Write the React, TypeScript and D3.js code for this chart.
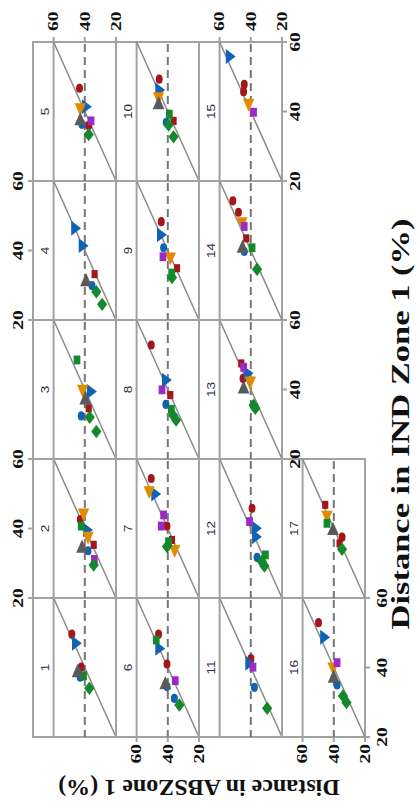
import React from 'react';
import * as d3 from 'd3';

// ---------- data: [panel, IND Zone 1 (%), ABS Zone 1 (%)] ----------
const panels = d3.range(1, 18);
const tickValues = [20, 40, 60];
const refLineValue = 40;
const xTitle = 'Distance in IND Zone 1 (%)';
const yTitle = 'Distance in ABSZone 1 (%)';

const redCircle = [
  [1, 49.6, 48.3], [1, 40.1, 42.3], [2, 42.6, 42.9], [5, 46.7, 43.4], [5, 36.0, 37.5],
  [6, 49.6, 45.9], [6, 41.0, 40.5], [7, 54.4, 50.6], [7, 40.7, 40.5], [8, 52.8, 50.6],
  [9, 48.3, 44.2], [10, 49.3, 45.5], [11, 42.6, 39.9], [12, 45.8, 39.2], [13, 43.2, 45.0],
  [14, 54.3, 51.5], [14, 51.0, 47.9], [15, 47.8, 44.2], [15, 45.7, 44.6], [16, 52.9, 49.8],
  [17, 37.5, 34.7],
];
const redSquare = [
  [2, 35.3, 34.3], [3, 34.6, 37.5], [4, 33.2, 33.7], [7, 36.7, 37.3], [8, 38.4, 38.4],
  [9, 34.9, 34.1], [10, 37.3, 36.3], [13, 47.5, 46.1], [14, 43.5, 42.9], [17, 46.8, 45.5],
  [17, 35.7, 36.3],
];
const blueCircle = [
  [1, 37.2, 42.9], [2, 33.6, 37.9], [3, 32.4, 42.3], [4, 29.9, 35.4], [5, 36.3, 41.8],
  [6, 34.5, 40.5], [6, 31.1, 35.8], [8, 35.7, 41.2], [9, 40.8, 42.7], [10, 36.9, 41.0],
  [11, 34.3, 37.7], [12, 31.7, 36.0], [14, 39.7, 44.2], [16, 35.0, 37.9],
];
const blueTriangle = [
  [1, 47.0, 46.1], [2, 39.6, 39.0], [3, 39.4, 36.5], [4, 46.4, 46.6], [4, 41.4, 41.8],
  [5, 41.4, 39.7], [6, 45.5, 45.9], [7, 49.9, 48.5], [8, 42.7, 41.6], [9, 44.5, 44.8],
  [10, 46.2, 45.9], [11, 41.2, 41.4], [12, 40.1, 37.1], [12, 37.6, 37.1], [13, 44.7, 42.5],
  [15, 55.8, 53.9], [16, 48.7, 46.6],
];
const orangeTriangle = [
  [2, 44.5, 40.8], [2, 37.8, 37.9], [3, 40.1, 41.4], [5, 41.1, 42.9], [7, 50.9, 51.9],
  [7, 34.0, 35.6], [9, 38.2, 38.4], [10, 44.3, 45.9], [13, 42.5, 40.3], [14, 48.3, 45.7],
  [15, 42.4, 41.4], [16, 40.2, 40.5], [17, 43.9, 44.4],
];
const purpleSquare = [
  [2, 31.1, 33.9], [5, 37.3, 36.0], [6, 36.2, 35.2], [7, 43.9, 42.7], [7, 40.7, 44.2],
  [8, 39.9, 43.7], [9, 38.2, 43.1], [11, 40.1, 38.6], [12, 42.0, 40.8], [13, 46.4, 44.6],
  [14, 46.9, 44.2], [15, 39.8, 38.2], [16, 41.4, 37.9],
];
const greenSquare = [
  [1, 37.6, 40.8], [2, 40.7, 42.3], [3, 48.5, 45.0], [6, 47.9, 47.4], [7, 36.2, 39.5],
  [8, 34.3, 37.7], [9, 33.5, 37.5], [10, 39.2, 39.0], [12, 32.4, 30.6], [14, 40.8, 39.2],
  [17, 41.5, 44.4],
];
const greenDiamond = [
  [1, 34.0, 37.1], [2, 29.5, 34.3], [3, 32.0, 36.9], [3, 27.9, 32.6], [4, 28.1, 32.6],
  [4, 24.5, 28.9], [5, 33.4, 37.5], [6, 29.2, 32.6], [7, 34.8, 40.5], [8, 32.5, 36.5],
  [8, 31.2, 34.7], [9, 32.2, 37.3], [10, 36.1, 39.5], [10, 32.7, 36.3], [11, 28.3, 29.5],
  [12, 30.5, 33.0], [12, 29.2, 31.3], [13, 35.5, 38.2], [13, 34.6, 37.1], [14, 34.6, 36.0],
  [16, 31.8, 34.1], [16, 29.9, 31.9], [17, 34.0, 34.7],
];
const grayTriangle = [
  [1, 38.5, 44.6], [2, 34.3, 41.8], [3, 37.0, 39.7], [4, 31.0, 39.2], [5, 37.3, 42.9],
  [6, 35.0, 41.6], [10, 41.9, 45.9], [13, 40.1, 44.6], [14, 40.6, 45.3], [16, 36.9, 40.1],
  [17, 39.4, 40.5],
];

const seriesList = [
  { data: redCircle, color: '#a3161a', type: d3.symbolCircle, size: 42, rot: 0 },
  { data: redSquare, color: '#a3161a', type: d3.symbolSquare, size: 42, rot: 0 },
  { data: blueCircle, color: '#0f62b4', type: d3.symbolCircle, size: 42, rot: 0 },
  { data: blueTriangle, color: '#0f62b4', type: d3.symbolTriangle, size: 62, rot: 90 },
  { data: orangeTriangle, color: '#e38b00', type: d3.symbolTriangle, size: 62, rot: 180 },
  { data: purpleSquare, color: '#9b2bc4', type: d3.symbolSquare, size: 50, rot: 0 },
  { data: greenSquare, color: '#12892a', type: d3.symbolSquare, size: 50, rot: 0 },
  { data: greenDiamond, color: '#12892a', type: d3.symbolSquare, size: 58, rot: 45 },
  { data: grayTriangle, color: '#5a5a5a', type: d3.symbolTriangle, size: 66, rot: 0 },
];

// ---------- layout ----------
const W = 418, H = 807;
const COL0 = 33, ROW0 = 42, COLW = 83, ROWH = 139;
const FRAME = '#a2a2a2';
const SERIF = '"Liberation Serif", "Times New Roman", serif';
const SANS = '"Liberation Sans", Arial, sans-serif';

function cellOf(p: number) {
  const r = Math.floor((p - 1) / 5); // original facet row -> image column
  const c = (p - 1) % 5; // original facet column -> image row (reversed)
  return { col: r, row: 4 - c };
}

function scalesFor(p: number) {
  const { col, row } = cellOf(p);
  const left = COL0 + col * COLW;
  const top = ROW0 + row * ROWH;
  const xAbs = d3.scaleLinear().domain([20, 73.2]).range([left + COLW, left]);
  const yInd = d3.scaleLinear().domain([20, 60]).range([top + ROWH, top]);
  return { col, row, left, top, xAbs, yInd };
}

function RText({ x, y, anchor = 'middle', size, sx = 1, weight = 'normal', family = SERIF, fill = '#111', rot = -90, children }: any) {
  return (
    <text
      transform={`translate(${x},${y}) rotate(${rot}) scale(${sx},1)`}
      textAnchor={anchor}
      dominantBaseline="central"
      fontSize={size}
      fontWeight={weight}
      fontFamily={family}
      fill={fill}
    >
      {children}
    </text>
  );
}

function Panel({ p }: { p: number }) {
  const { left, top, xAbs, yInd } = scalesFor(p);
  const diag = d3.line<number>().x((v) => xAbs(v)).y((v) => yInd(v));
  return (
    <g>
      <rect x={left} y={top} width={COLW} height={ROWH} fill="white" stroke={FRAME} strokeWidth={2} />
      <line x1={xAbs(60)} x2={xAbs(60)} y1={top} y2={top + ROWH} stroke={FRAME} strokeWidth={2} />
      <line x1={xAbs(refLineValue)} x2={xAbs(refLineValue)} y1={top + 2} y2={top + ROWH} stroke="#767676" strokeWidth={2} strokeDasharray="8,5" />
      <path d={diag([20, 60]) || ''} stroke="#8a8a8a" strokeWidth={1.5} fill="none" />
      <RText x={left + 12.5} y={top + ROWH / 2} size={10} sx={1.35} family={SANS} fill="#2a2a3a">{String(p)}</RText>
    </g>
  );
}

function Markers({ p }: { p: number }) {
  const { xAbs, yInd } = scalesFor(p);
  return (
    <g>
      {seriesList.map((s, i) => {
        const sym = d3.symbol().type(s.type).size(s.size);
        return s.data
          .filter((d) => d[0] === p)
          .map((d, j) => (
            <path
              key={`${i}-${j}`}
              d={sym() || ''}
              transform={`translate(${xAbs(d[2])},${yInd(d[1])}) scale(0.95,1.25) rotate(${s.rot})`}
              fill={s.color}
            />
          ));
      })}
    </g>
  );
}

export default function App() {
  const axisEls: any[] = [];
  const tickLen = 5;
  const tickFont = 15;
  const tickSx = 1.3;
  [0, 2].forEach((col) => {
    const p = col * 5 + 5;
    const { xAbs } = scalesFor(p);
    tickValues.forEach((v) => {
      axisEls.push(<line key={`tt${col}${v}`} x1={xAbs(v)} x2={xAbs(v)} y1={ROW0} y2={ROW0 - tickLen} stroke={FRAME} strokeWidth={2} />);
      axisEls.push(<RText key={`tl${col}${v}`} x={xAbs(v)} y={ROW0 - 11} anchor="start" size={tickFont} sx={tickSx} weight="bold">{String(v)}</RText>);
    });
  });
  const bottomY = ROW0 + 5 * ROWH;
  [1, 3].forEach((col) => {
    const p = col * 5 + 1;
    const { xAbs } = scalesFor(p);
    tickValues.forEach((v) => {
      axisEls.push(<line key={`bt${col}${v}`} x1={xAbs(v)} x2={xAbs(v)} y1={bottomY} y2={bottomY + tickLen} stroke={FRAME} strokeWidth={2} />);
      axisEls.push(<RText key={`bl${col}${v}`} x={xAbs(v)} y={bottomY + 7} anchor="end" size={tickFont} sx={tickSx} weight="bold">{String(v)}</RText>);
    });
  });
  [
    { p: 15, right: COL0 + 3 * COLW, off: 13 },
    { p: 13, right: COL0 + 3 * COLW, off: 13 },
    { p: 16, right: COL0 + 4 * COLW, off: 17 },
  ].forEach(({ p, right, off }) => {
    const { yInd } = scalesFor(p);
    tickValues.forEach((v) => {
      axisEls.push(<line key={`rt${p}${v}`} x1={right} x2={right + tickLen} y1={yInd(v)} y2={yInd(v)} stroke={FRAME} strokeWidth={2} />);
      axisEls.push(<RText key={`rl${p}${v}`} x={right + off} y={yInd(v)} size={tickFont} sx={tickSx} weight="bold">{String(v)}</RText>);
    });
  });
  [4, 2].forEach((p) => {
    const { yInd } = scalesFor(p);
    tickValues.forEach((v) => {
      axisEls.push(<line key={`lt${p}${v}`} x1={COL0} x2={COL0 - tickLen} y1={yInd(v)} y2={yInd(v)} stroke={FRAME} strokeWidth={2} />);
      axisEls.push(<RText key={`ll${p}${v}`} x={COL0 - 15} y={yInd(v)} size={tickFont} sx={tickSx} weight="bold">{String(v)}</RText>);
    });
  });

  return (
    <svg width={W} height={H} style={{ position: 'absolute', left: 0, top: 0, background: 'white' }}>
      <rect x={0} y={0} width={W} height={H} fill="white" />
      {panels.map((p) => <Panel key={`p${p}`} p={p} />)}
      {panels.map((p) => <Markers key={`m${p}`} p={p} />)}
      {axisEls}
      <RText x={401} y={424} size={25} sx={1.38} weight="bold">{xTitle}</RText>
      <RText x={199} y={788} rot={180} size={24} sx={1} weight="bold">{yTitle}</RText>
    </svg>
  );
}
